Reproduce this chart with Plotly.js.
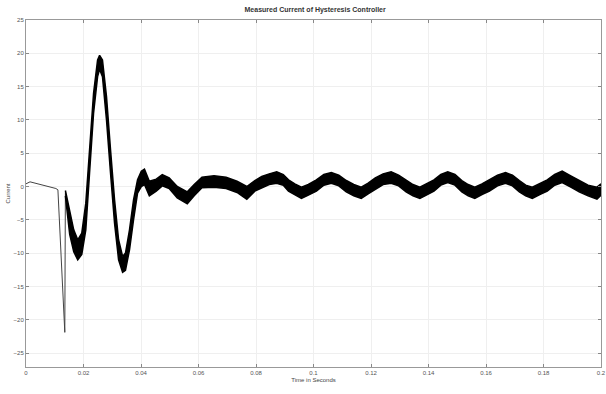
<!DOCTYPE html>
<html>
<head>
<meta charset="utf-8">
<script src="https://cdn.plot.ly/plotly-3.0.1.min.js"></script>
<style>html,body{margin:0;padding:0;background:#fff;}#chart{width:606px;height:394px;}</style>
</head>
<body>
<div id="chart"></div>
<script>
// Initial (thin) part of the measured current
const startTime = [0, 0.0014, 0.0104, 0.0111, 0.0135, 0.0137];
const startCurrent = [0.4, 0.7, -0.3, -0.5, -21.9, -0.8];

// Switching ripple band: time, upper and lower envelope
const bandTime = [0.0137,0.0152,0.0166,0.0180,0.0194,0.0208,0.0221,0.0235,0.0249,0.0256,0.0266,0.0280,0.0294,0.0308,0.0322,0.0336,0.0346,0.0360,0.0374,0.0388,0.0401,0.0412,0.0429,0.0453,0.0474,0.0498,0.0526,0.0561,0.0585,0.0612,0.0654,0.0696,0.0734,0.0768,0.0796,0.0820,0.0846,0.0872,0.0895,0.0913,0.0935,0.0958,0.0982,0.1010,0.1036,0.1062,0.1088,0.1114,0.1140,0.1166,0.1190,0.1215,0.1242,0.1270,0.1296,0.1322,0.1346,0.1370,0.1394,0.1419,0.1443,0.1467,0.1492,0.1516,0.1538,0.1561,0.1586,0.1612,0.1640,0.1668,0.1692,0.1716,0.1738,0.1761,0.1787,0.1813,0.1839,0.1865,0.1895,0.1924,0.1955,0.1986,0.2000];
const bandUpper = [-0.6,-3.5,-6.5,-8.0,-7.0,-2.5,5.5,14.0,19.0,19.7,19.0,13.5,5.5,-2.0,-8.0,-10.5,-10.0,-6.5,-2.0,1.0,2.3,2.6,0.8,1.1,1.8,1.3,0.0,-0.8,0.3,1.4,1.6,1.4,0.8,0.0,0.9,1.5,1.9,2.2,1.8,1.0,0.4,-0.1,0.3,1.0,1.8,2.1,1.7,0.9,0.3,-0.1,0.5,1.3,1.9,2.2,1.7,0.9,0.3,-0.1,0.4,1.0,1.8,2.2,1.8,0.9,0.3,-0.1,0.4,1.0,1.7,2.1,1.7,0.9,0.2,-0.1,0.4,1.0,1.8,2.3,1.6,0.9,0.2,-0.1,0.4];
const bandLower = [-1.4,-7.2,-9.8,-11.0,-10.2,-6.5,2.0,11.0,16.5,17.6,16.5,10.0,2.0,-5.5,-11.0,-12.9,-12.6,-9.5,-5.0,-1.0,0.0,0.3,-1.4,-0.7,0.1,-0.3,-1.7,-2.6,-1.4,-0.2,-0.1,-0.3,-0.9,-1.9,-0.7,-0.2,0.3,0.5,0.2,-0.7,-1.3,-1.8,-1.3,-0.7,0.2,0.5,0.1,-0.8,-1.4,-1.8,-1.1,-0.4,0.3,0.5,0.1,-0.8,-1.4,-1.8,-1.2,-0.7,0.2,0.6,0.2,-0.8,-1.4,-1.8,-1.2,-0.7,0.1,0.5,0.1,-0.8,-1.4,-1.8,-1.2,-0.7,0.2,0.6,-0.1,-0.8,-1.4,-1.9,-1.3];

const xTicks = [0, 0.02, 0.04, 0.06, 0.08, 0.1, 0.12, 0.14, 0.16, 0.18, 0.2];
const xTickText = ['0', '0.02', '0.04', '0.06', '0.08', '0.1', '0.12', '0.14', '0.16', '0.18', '0.2'];
const yTicks = [-25,-20,-15,-10,-5,0,5,10,15,20,25];

const traces = [
  {x: startTime, y: startCurrent, mode: 'lines', line: {color: '#444', width: 1}, hoverinfo: 'skip'},
  {x: bandTime, y: bandLower, mode: 'lines', line: {color: '#000', width: 1.5}, hoverinfo: 'skip'},
  {x: bandTime, y: bandUpper, mode: 'lines', line: {color: '#000', width: 1.5}, fill: 'tonexty', fillcolor: '#000', hoverinfo: 'skip'}
];

const axisFont = {family: 'Liberation Sans, Arial, sans-serif', size: 6, color: '#555'};

const layout = {
  width: 606, height: 394,
  margin: {l: 26, r: 5, t: 20, b: 27},
  paper_bgcolor: '#fff', plot_bgcolor: '#fff',
  showlegend: false,
  title: {text: '<b>Measured Current of Hysteresis Controller</b>', font: {family: 'Liberation Sans, Arial, sans-serif', size: 7, color: '#333'}, x: 0.52, xanchor: 'center', y: 0.975, yanchor: 'middle', yref: 'container'},
  xaxis: {
    range: [0, 0.2], tickvals: xTicks, ticktext: xTickText, ticks: 'inside', ticklen: 3, tickcolor: '#888',
    ticklabeloverflow: 'allow',
    showline: true, linecolor: '#999', linewidth: 1, mirror: 'ticks',
    showgrid: true, gridcolor: '#efefef', zeroline: false,
    tickfont: axisFont,
    title: {text: 'Time in Seconds', font: {family: 'Liberation Sans, Arial, sans-serif', size: 6, color: '#444'}, standoff: 2}
  },
  yaxis: {
    range: [-27.1, 25], tickvals: yTicks, ticks: 'inside', ticklen: 3, tickcolor: '#888',
    showline: true, linecolor: '#999', linewidth: 1, mirror: 'ticks',
    showgrid: true, gridcolor: '#efefef', zeroline: false,
    tickfont: axisFont,
    title: {text: 'Current', font: {family: 'Liberation Sans, Arial, sans-serif', size: 6, color: '#444'}, standoff: 2}
  }
};

Plotly.newPlot('chart', traces, layout, {displayModeBar: false, staticPlot: true});
</script>
</body>
</html>
